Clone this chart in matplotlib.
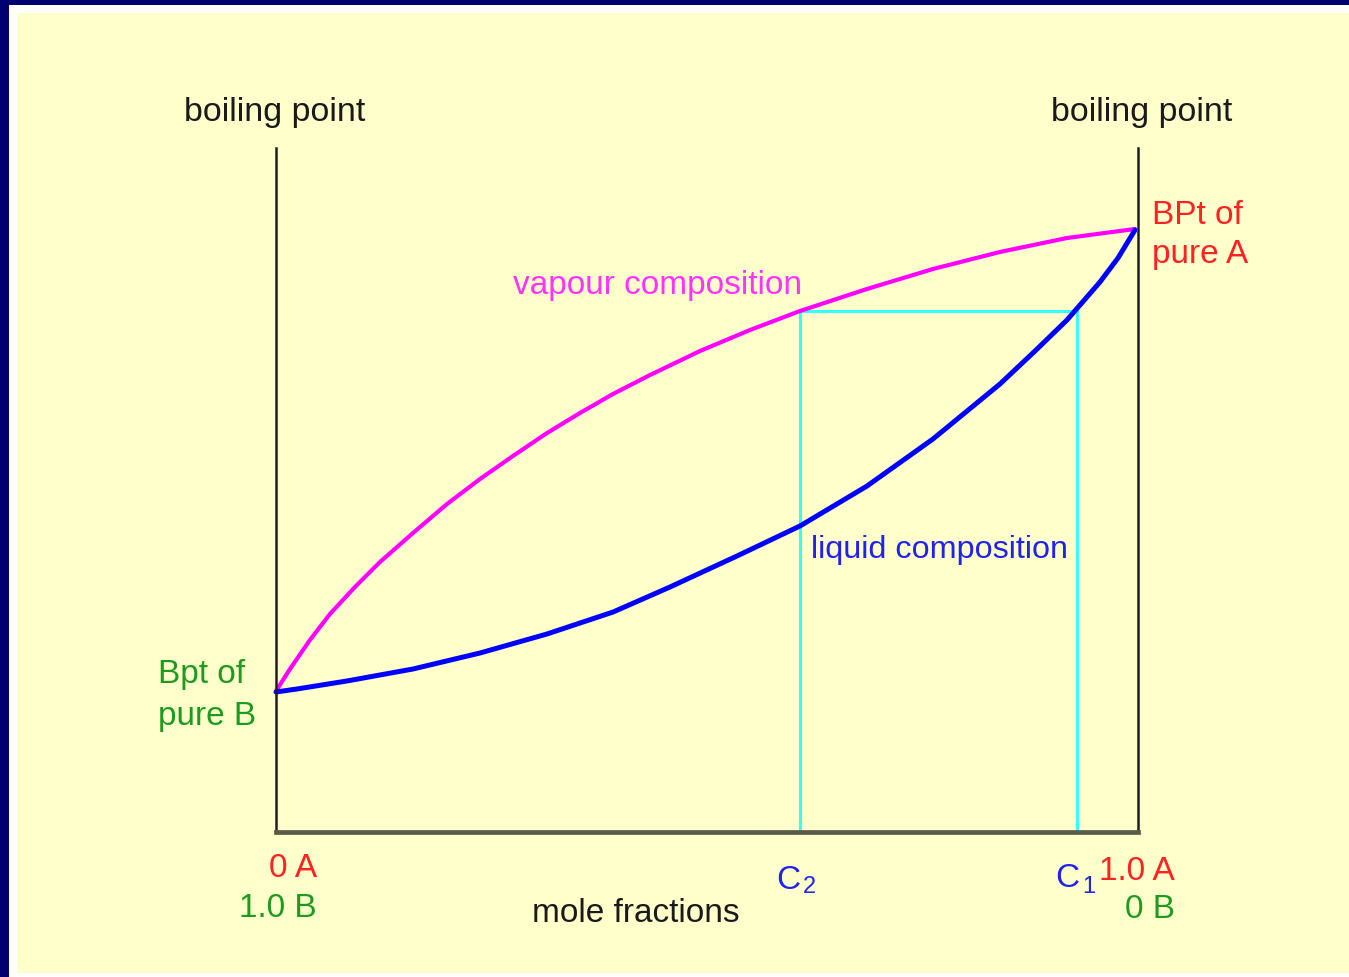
import numpy as np
from matplotlib import pyplot as plt
from matplotlib.patches import Rectangle

# mole fraction of A and boiling temperature (relative: 0 = axis bottom, 1 = axis top)
vapour_x = [0.0, 0.0162, 0.0394, 0.0626, 0.0916, 0.1206, 0.1589, 0.1984, 0.2367, 0.2749, 0.3144,
            0.3527, 0.3910, 0.4339, 0.4919, 0.5499, 0.6079, 0.6856, 0.7622, 0.8399, 0.9176, 0.9965]
vapour_t = [0.2061, 0.2383, 0.2807, 0.3187, 0.3582, 0.3947, 0.4371, 0.4795, 0.5161, 0.5497, 0.5833,
            0.6126, 0.6404, 0.6681, 0.7032, 0.7339, 0.7617, 0.7939, 0.8231, 0.8480, 0.8684, 0.8816]

liquid_x = [0.0, 0.0244, 0.0824, 0.1589, 0.2367, 0.3144, 0.3910, 0.4571, 0.5348, 0.6079, 0.6856,
            0.7622, 0.8399, 0.8805, 0.9176, 0.9559, 0.9768, 0.9965]
liquid_t = [0.2047, 0.2091, 0.2208, 0.2383, 0.2617, 0.2895, 0.3216, 0.3582, 0.4035, 0.4474, 0.5058,
            0.5746, 0.6550, 0.7032, 0.7485, 0.8041, 0.8392, 0.8801]

c2 = 0.608      # vapour composition on the tie line
c1 = 0.929      # liquid composition on the tie line
t_tie = 0.762   # temperature of the tie line

W, H = 1349, 977
plt.rcParams['font.family'] = ['Liberation Sans', 'DejaVu Sans']

fig = plt.figure(figsize=(W / 100, H / 100), dpi=100)
fig.patch.set_facecolor('#000070')


def fx(px):
    return px / W


def fy(py):
    return 1 - py / H


# white frame and pale yellow slide
fig.patches.append(Rectangle((fx(9), 0), 1, fy(5), transform=fig.transFigure,
                             facecolor='white', edgecolor='none', zorder=-3))
fig.patches.append(Rectangle((fx(17), fy(973)), 1, fy(13) - fy(973), transform=fig.transFigure,
                             facecolor='#FFFFCC', edgecolor='none', zorder=-2))

ax = fig.add_axes([fx(276), fy(832), fx(1138) - fx(276), fy(148) - fy(832)])
ax.set_facecolor('none')
ax.set_xlim(0, 1)
ax.set_ylim(0, 1)
ax.set_xticks([])
ax.set_yticks([])
ax.spines['top'].set_visible(False)
for s in ['left', 'right']:
    ax.spines[s].set_linewidth(1.8)
    ax.spines[s].set_color('#1e1e1e')
ax.spines['bottom'].set_linewidth(3.4)
ax.spines['bottom'].set_color('#5a5a48')

# tie line construction
cyan = '#33FFFF'
ax.plot([c2, c2], [0, t_tie], color=cyan, lw=2.2, clip_on=False)
ax.plot([c1, c1], [0, t_tie], color=cyan, lw=2.2, clip_on=False)
ax.plot([c2, c1], [t_tie, t_tie], color=cyan, lw=2.2, clip_on=False)

ax.plot(vapour_x, vapour_t, color='#FF00FF', lw=3.0, solid_capstyle='round',
        solid_joinstyle='round', clip_on=False)
ax.plot(liquid_x, liquid_t, color='#0000FF', lw=3.6, solid_capstyle='round',
        solid_joinstyle='round', clip_on=False)

red = '#FF2222'
green = '#1E9A1E'
blue = '#2222EE'
fs = 24


def label(px, py, s, color, ha='left', size=fs):
    fig.text(fx(px), fy(py), s, color=color, ha=ha, va='baseline', fontsize=size)


label(275, 121, 'boiling point', '#1a1a1a', ha='center', size=24.5)
label(1142, 121, 'boiling point', '#1a1a1a', ha='center', size=24.5)
label(1152, 224, 'BPt of', red)
label(1152, 263, 'pure A', red)
label(513, 294, 'vapour composition', '#FF33FF')
label(811, 558, 'liquid composition', blue, size=23.3)
label(158, 683, 'Bpt of', green)
label(158, 725, 'pure B', green)
label(317, 877, '0 A', red, ha='right')
label(317, 917, '1.0 B', green, ha='right')
label(776, 889, 'C', blue)
label(803, 893, '2', blue, size=17)
label(1055, 887, 'C', blue)
label(1082, 893, '1', blue, size=17)
label(1175, 880, '1.0 A', red, ha='right')
label(1175, 918, '0 B', green, ha='right')
label(636, 922, 'mole fractions', '#1a1a1a', ha='center')

fig.savefig('out.png', dpi=100, facecolor=fig.get_facecolor())
